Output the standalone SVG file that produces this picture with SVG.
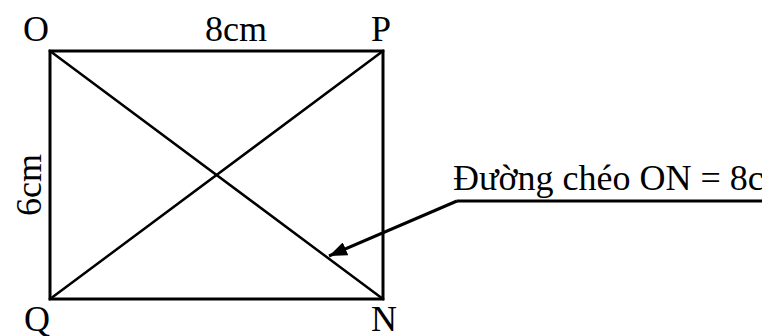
<svg xmlns="http://www.w3.org/2000/svg" width="762" height="336" viewBox="0 0 762 336">
<style>
  .lbl { font-family: "Liberation Serif", "Times New Roman", serif; font-size: 36px; fill: #000; }
  .edge { stroke: #000; fill: none; stroke-linecap: square; }
</style>
<defs>
  <marker id="arrow" markerUnits="userSpaceOnUse" markerWidth="20" markerHeight="14" refX="18" refY="7" orient="auto">
    <path d="M0,0 L18,7 L0,14 Z" fill="#000"/>
  </marker>
</defs>
<rect width="762" height="336" fill="#fff"/>
<g id="shape">
  <rect x="50" y="51" width="333" height="248" fill="none" stroke="#000" stroke-width="3"/>
  <line class="edge" x1="50" y1="51" x2="383" y2="299" stroke-width="2.5"/>
  <line class="edge" x1="50" y1="299" x2="383" y2="51" stroke-width="2.5"/>
</g>
<g id="labels">
  <text class="lbl" x="23" y="41">O</text>
  <text class="lbl" x="371" y="41">P</text>
  <text class="lbl" x="236" y="41" text-anchor="middle">8cm</text>
  <text class="lbl" x="24" y="331">Q</text>
  <text class="lbl" x="371" y="331">N</text>
  <text class="lbl" transform="translate(41,185) rotate(-90)" text-anchor="middle">6cm</text>
</g>
<g id="callout">
  <text class="lbl" x="453" y="190">Đường chéo ON = 8cm</text>
  <line x1="457" y1="201" x2="762" y2="201" stroke="#000" stroke-width="3"/>
  <line x1="457" y1="201" x2="329" y2="256" stroke="#000" stroke-width="3" marker-end="url(#arrow)"/>
</g>
</svg>
